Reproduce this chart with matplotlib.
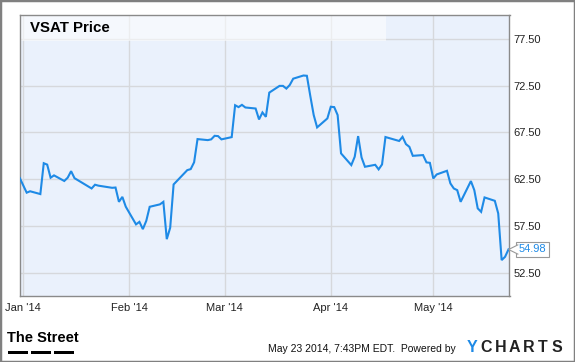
import datetime as dt

import matplotlib
matplotlib.use("Agg")
from matplotlib import pyplot as plt
from matplotlib import dates as mdates
from matplotlib import transforms
from matplotlib.patches import Rectangle
from matplotlib.path import Path
from matplotlib.ticker import FormatStrFormatter

# VSAT closing prices (turning points only)
dates = [
    "2013-12-31", "2014-01-02", "2014-01-03", "2014-01-06", "2014-01-07",
    "2014-01-08", "2014-01-09", "2014-01-10", "2014-01-13", "2014-01-14",
    "2014-01-15", "2014-01-16", "2014-01-21", "2014-01-22", "2014-01-23",
    "2014-01-27", "2014-01-28", "2014-01-29", "2014-01-30", "2014-01-31",
    "2014-02-03", "2014-02-04", "2014-02-05", "2014-02-06", "2014-02-07",
    "2014-02-10", "2014-02-11", "2014-02-12", "2014-02-13", "2014-02-14",
    "2014-02-18", "2014-02-19", "2014-02-20", "2014-02-21", "2014-02-24",
    "2014-02-25", "2014-02-26", "2014-02-27", "2014-02-28", "2014-03-03",
    "2014-03-04", "2014-03-05", "2014-03-06", "2014-03-07", "2014-03-10",
    "2014-03-11", "2014-03-12", "2014-03-13", "2014-03-14", "2014-03-17",
    "2014-03-18", "2014-03-19", "2014-03-20", "2014-03-21", "2014-03-24",
    "2014-03-25", "2014-03-26", "2014-03-27", "2014-03-28", "2014-03-31",
    "2014-04-01", "2014-04-02", "2014-04-03", "2014-04-04", "2014-04-07",
    "2014-04-08", "2014-04-09", "2014-04-10", "2014-04-11", "2014-04-14",
    "2014-04-15", "2014-04-16", "2014-04-17", "2014-04-21", "2014-04-22",
    "2014-04-23", "2014-04-24", "2014-04-25", "2014-04-28", "2014-04-29",
    "2014-04-30", "2014-05-01", "2014-05-02", "2014-05-05", "2014-05-06",
    "2014-05-07", "2014-05-08", "2014-05-09", "2014-05-12", "2014-05-13",
    "2014-05-14", "2014-05-15", "2014-05-16", "2014-05-19", "2014-05-20",
    "2014-05-21", "2014-05-22", "2014-05-23",
]
prices = [
    62.60, 61.05, 61.20, 60.90, 64.20,
    64.05, 62.65, 62.90, 62.30, 62.65,
    63.35, 62.60, 61.50, 61.90, 61.80,
    61.57, 61.60, 60.07, 60.60, 59.55,
    57.66, 57.93, 57.15, 58.04, 59.54,
    59.80, 60.07, 56.08, 57.30, 61.93,
    63.46, 63.57, 64.30, 66.78, 66.67,
    66.75, 67.13, 67.10, 66.75, 66.99,
    70.40, 70.20, 70.44, 70.16, 70.05,
    68.88, 69.63, 69.16, 71.75, 72.47,
    72.47, 72.18, 72.57, 73.24, 73.58,
    73.55, 71.40, 69.35, 68.03, 68.99,
    70.24, 70.20, 69.35, 65.25, 64.00,
    64.89, 67.10, 64.82, 63.82, 64.03,
    63.54, 64.07, 67.00, 66.58, 67.02,
    66.24, 65.95, 64.99, 65.07, 64.29,
    64.24, 62.57, 63.00, 63.39, 62.04,
    61.50, 61.32, 60.07, 62.29, 61.32,
    59.37, 59.00, 60.54, 60.18, 58.83,
    53.84, 54.19, 54.98,
]
y_ticks = [52.5, 57.5, 62.5, 67.5, 72.5, 77.5]
month_ticks = ["2014-01-01", "2014-02-01", "2014-03-01", "2014-04-01", "2014-05-01"]

LINE_BLUE = "#1e8ae6"
GRID = "#d6d8dc"
SPINE = "#8a8a8a"

plt.rcParams["font.family"] = ["Liberation Sans", "DejaVu Sans"]

x = [dt.datetime.strptime(d, "%Y-%m-%d") for d in dates]
xt = [dt.datetime.strptime(d, "%Y-%m-%d") for d in month_ticks]

fig = plt.figure(figsize=(5.75, 3.62), dpi=100)
fig.patch.set_facecolor("white")

W, H = 575.0, 362.0
ax = fig.add_axes([19.5 / W, 1 - 296 / H, 490 / W, 281 / H])
ax.set_facecolor("#eaf1fc")

ax.plot(x, prices, color=LINE_BLUE, lw=1.5, zorder=3, solid_joinstyle="miter")

ax.set_xlim(xt[0] - dt.timedelta(days=1.1), xt[-1] + dt.timedelta(days=22.3))
ax.set_ylim(50.0, 80.05)
ax.set_xticks(xt)
ax.xaxis.set_major_formatter(mdates.DateFormatter("%b '%y"))
ax.set_yticks(y_ticks)
ax.yaxis.set_major_formatter(FormatStrFormatter("%.2f"))
ax.yaxis.tick_right()
ax.tick_params(axis="both", length=0, labelsize=8, colors="#222222")
ax.tick_params(axis="x", pad=5)
ax.tick_params(axis="y", pad=3)
ax.grid(True, color=GRID, lw=1.0, zorder=0)
ax.set_axisbelow(True)
for s in ax.spines.values():
    s.set_color(SPINE)
    s.set_linewidth(1.0)

# title band
ax.add_patch(Rectangle((0, 0.9075), 0.748, 0.0925, transform=ax.transAxes,
                       facecolor="white", alpha=0.55, edgecolor="none", zorder=2))
ax.text(0.022, 0.952, "VSAT Price", transform=ax.transAxes, fontsize=10.8,
        fontweight="bold", color="black", va="center", ha="left", zorder=4)

# last value flag
ax.annotate(f"{prices[-1]:.2f}", xy=(x[-1], prices[-1]), xytext=(10, 0),
            textcoords="offset pixels", ha="left", va="center", fontsize=8,
            color=LINE_BLUE, annotation_clip=False, zorder=5,
            bbox=dict(boxstyle="square,pad=0.25", fc="white", ec="#999999", lw=0.8))
pointer = Path([(1, -1), (-1, 0), (1, 1)])
ax.plot([x[-1]], [prices[-1]], marker=pointer, markersize=7, mfc="white",
        mec="#999999", mew=0.8, clip_on=False, zorder=6,
        transform=transforms.offset_copy(ax.transData, fig, x=4.5, y=0, units="dots"))

# footer
fig.text(7 / W, 1 - 338.5 / H, "The Street", fontsize=10.5, fontweight="bold",
         family=["DejaVu Sans Condensed", "Liberation Sans"], stretch="condensed",
         va="center", ha="left")
for x0 in (8, 31, 54):
    fig.patches.append(Rectangle((x0 / W, 1 - 353.5 / H), 20 / W, 2.5 / H,
                                 transform=fig.transFigure, facecolor="black",
                                 edgecolor="none"))
fig.text(268 / W, 1 - 349 / H, "May 23 2014, 7:43PM EDT.  Powered by",
         fontsize=7.5, color="#111111", va="center", ha="left")
for i, ch in enumerate("YCHARTS"):
    fig.text((472 + 14.2 * i) / W, 1 - 348 / H, ch, fontsize=11.5,
             fontweight="bold", color=LINE_BLUE if ch == "Y" else "#222222",
             va="center", ha="center")

# outer frame
fig.patches.append(Rectangle((0, 0), 1, 1, transform=fig.transFigure,
                             facecolor="none", edgecolor="#808080", lw=2.5))

fig.savefig("out.png", dpi=100)
